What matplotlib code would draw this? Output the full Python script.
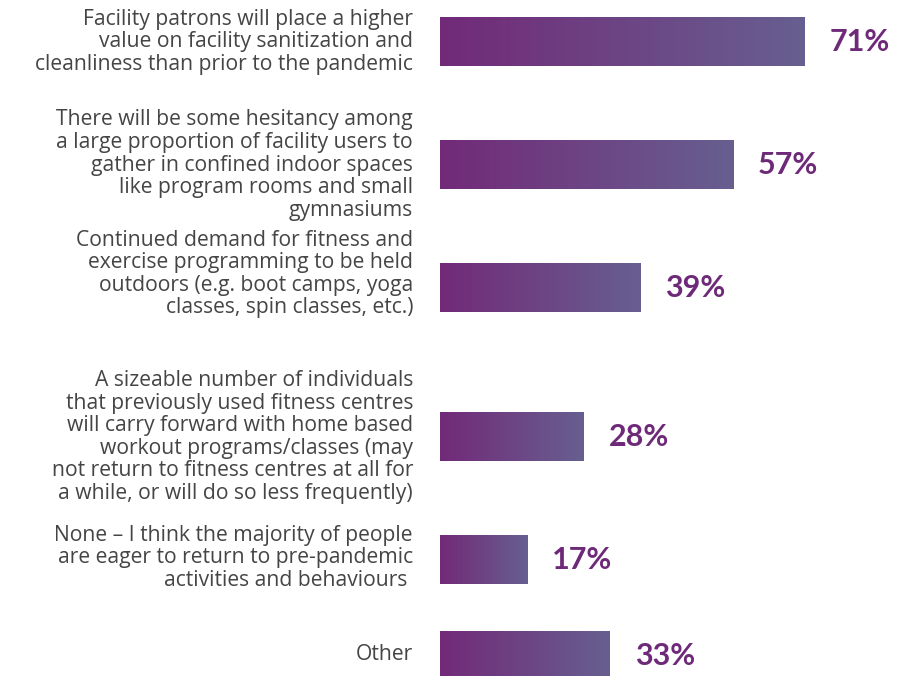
import matplotlib.pyplot as plt
import numpy as np
from matplotlib.colors import LinearSegmentedColormap

# survey answers, top to bottom
labels = [
    "Facility patrons will place a higher\nvalue on facility sanitization and\ncleanliness than prior to the pandemic",
    "There will be some hesitancy among\na large proportion of facility users to\ngather in confined indoor spaces\nlike program rooms and small\ngymnasiums",
    "Continued demand for fitness and\nexercise programming to be held\noutdoors (e.g. boot camps, yoga\nclasses, spin classes, etc.)",
    "A sizeable number of individuals\nthat previously used fitness centres\nwill carry forward with home based\nworkout programs/classes (may\nnot return to fitness centres at all for\na while, or will do so less frequently)",
    "None \u2013 I think the majority of people\nare eager to return to pre-pandemic\nactivities and behaviours ",
    "Other",
]
values = [71, 57, 39, 28, 17, 33]

# row layout (pixels from the top)
bar_y = [42, 165, 288, 437, 560, 656]
text_y = [42, 165, 274, 437, 558, 655]
bar_h = 49

W, H = 907, 676
fig = plt.figure(figsize=(W / 100, H / 100), dpi=100)
px_per_pct = 365 / 71
ax = fig.add_axes([440 / W, 0, 100 * px_per_pct / W, 1])
ax.set_xlim(0, 100)
ax.set_ylim(H, 0)
ax.axis("off")

cmap = LinearSegmentedColormap.from_list("bar", ["#722a78", "#675f90"])
grad = np.linspace(0, 1, 256).reshape(1, -1)

for lab, v, yb, yt in zip(labels, values, bar_y, text_y):
    ax.imshow(grad, cmap=cmap, aspect="auto", interpolation="bilinear",
              extent=[0, v, yb + bar_h / 2, yb - bar_h / 2], clip_on=False)
    ax.text(v + 25 / px_per_pct, yb, f"{v}%", ha="left", va="center",
            fontsize=22, fontweight="bold", color="#6e2a78", family="Lato")
    ax.text(-27 / px_per_pct, yt, lab, ha="right", va="center", fontsize=15.2,
            color="#454545", family="Open Sans", linespacing=1.1, clip_on=False)

ax.set_xlim(0, 100)
ax.set_ylim(H, 0)
fig.savefig("out.png", dpi=100)
